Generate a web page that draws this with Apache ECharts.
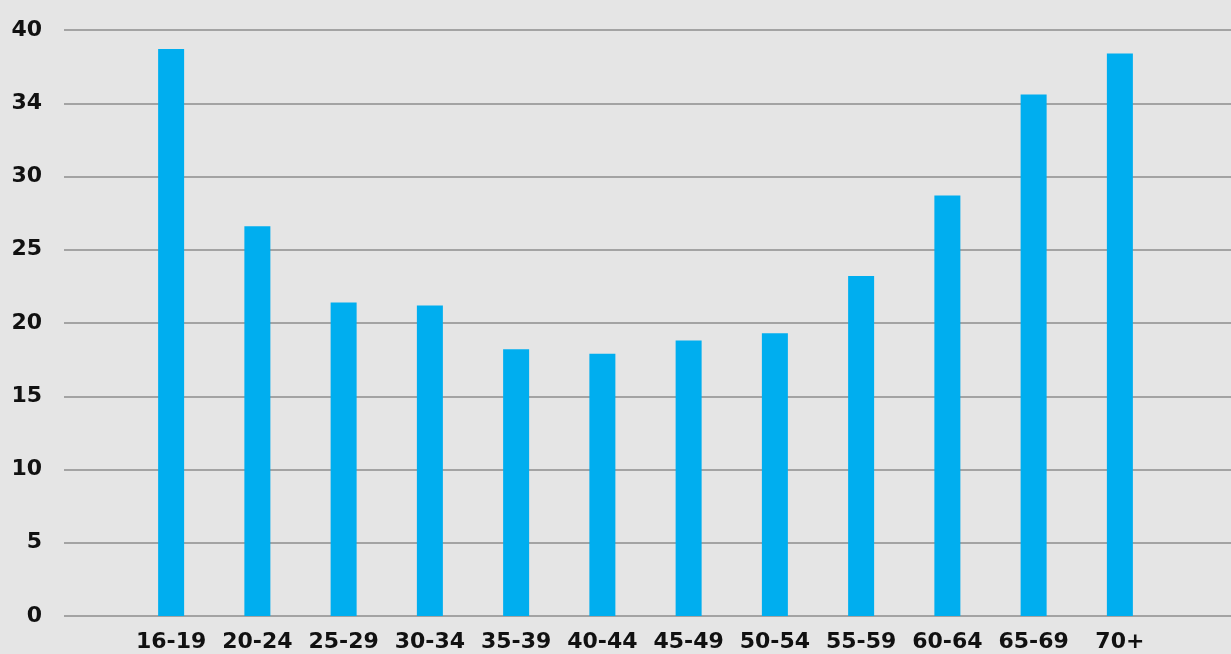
<!DOCTYPE html>
<html><head><meta charset="utf-8">
<script src="https://cdn.jsdelivr.net/npm/echarts@6/dist/echarts.min.js"></script>
<style>html,body{margin:0;padding:0;background:#e5e5e5;}#c{width:1231px;height:654px;}</style>
</head><body><div id="c"></div>
<script>
const categories = ['16-19','20-24','25-29','30-34','35-39','40-44','45-49','50-54','55-59','60-64','65-69','70+'];
const values = [38.7, 26.6, 21.4, 21.2, 18.2, 17.9, 18.8, 19.3, 23.2, 28.7, 35.6, 38.4];
const yTickValues = [0, 5, 10, 15, 20, 25, 30, 35, 40];
const yTickLabels = ['0', '5', '10', '15', '20', '25', '30', '34', '40'];

const labelFont = {fontFamily: 'DejaVu Sans', fontWeight: 'bold', fontSize: 22, color: '#111'};
const chart = echarts.init(document.getElementById('c'), null, {renderer: 'canvas'});
chart.setOption({
  backgroundColor: '#e5e5e5',
  animation: false,
  grid: [
    {left: 64, right: 0, top: 30, bottom: 38},
    {left: 128, width: 1035, top: 30, bottom: 38}
  ],
  xAxis: [
    {gridIndex: 0, type: 'value', min: 0, max: 1, show: false},
    {gridIndex: 1, type: 'category', data: categories,
     axisLine: {show: false}, axisTick: {show: false},
     axisLabel: Object.assign({margin: 15, interval: 0}, labelFont)}
  ],
  yAxis: [
    {gridIndex: 0, type: 'value', min: 0, max: 40, interval: 5,
     axisLine: {show: false}, axisTick: {show: false},
     splitLine: {lineStyle: {color: '#8c8c8c', width: 1.5}},
     axisLabel: Object.assign({margin: 22, formatter: v => {
        const i = yTickValues.indexOf(v); return i >= 0 ? yTickLabels[i] : '';
     }}, labelFont)},
    {gridIndex: 1, type: 'value', min: 0, max: 40, show: false}
  ],
  series: [{
    type: 'bar', xAxisIndex: 1, yAxisIndex: 1,
    data: values, barWidth: 26,
    itemStyle: {color: '#00aeef'}
  }]
});
</script></body></html>
